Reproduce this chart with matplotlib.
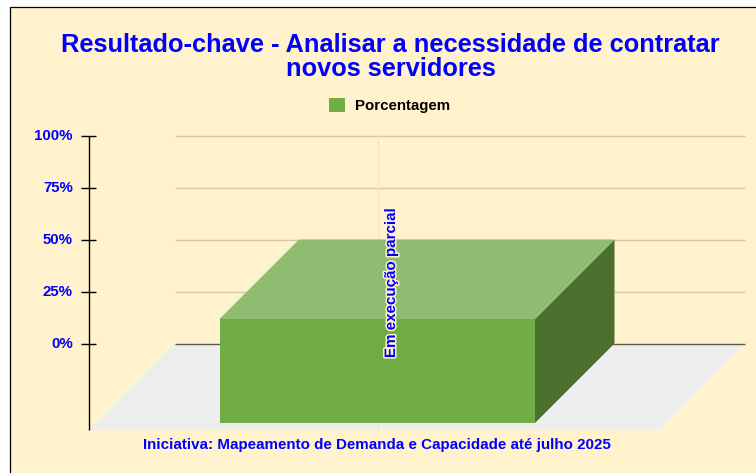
import matplotlib
matplotlib.use('Agg')
from matplotlib import pyplot as plt
from matplotlib.patches import Polygon, Rectangle
import matplotlib.patheffects as pe

plt.rcParams['font.family'] = ['Liberation Sans', 'DejaVu Sans']

# %%
title = 'Resultado-chave - Analisar a necessidade de contratar\nnovos servidores'
subtitle = 'Iniciativa: Mapeamento de Demanda e Capacidade até julho 2025'
series_name = 'Porcentagem'
bar_label = 'Em execução parcial'
values = [50]
tick_values = [0, 25, 50, 75, 100]
tick_labels = ['0%', '25%', '50%', '75%', '100%']

# %%
W, H = 756, 473
bg = '#fff2cc'
blue = '#0000ff'
px_per_pct = 2.08   # 208 px between 0% and 100%
y0_px = 343.5       # pixel row of 0% on the back wall

fig = plt.figure(figsize=(W/100, H/100), dpi=100, facecolor='white')
ax = fig.add_axes([0, 0, 1, 1])
ax.set_xlim(0, W)
# y axis is in percent, the back wall 0% sits at pixel row y0_px
ax.set_ylim(-(H - y0_px)/px_per_pct, y0_px/px_per_pct)
ax.axis('off')

def pct(px):
    # distance in pixels to percent units
    return px/px_per_pct

# chart background with its black border
ax.add_patch(Rectangle((10.2, pct(y0_px - H - 5)), W + 10, pct(H - 2), fc=bg, ec='black', lw=0.9, zorder=0))

# floor
floor_depth = 86
ax.add_patch(Polygon([(174.7, 0), (745, 0), (660, pct(-floor_depth)), (89, pct(-floor_depth))],
                     fc='#eeeeee', ec='none', zorder=1))

# gridlines on the back wall
for v in tick_values:
    col = '#5f5a4a' if v == 0 else '#d6c9a3'
    ax.plot([174.7, 745], [v, v], color=col, lw=1.0, solid_capstyle='butt', zorder=2)
ax.plot([378, 378], [100, pct(-floor_depth)], color='#f1e5c4', lw=1.0, zorder=2)

# y axis
ax.plot([88.5, 88.5], [100, pct(-floor_depth - 0.5)], color='black', lw=1.0, solid_capstyle='butt', zorder=3)
for v, lab in zip(tick_values, tick_labels):
    ax.plot([81, 96], [v, v], color='black', lw=1.0, solid_capstyle='butt', zorder=3)
    ax.text(72.8, v - pct(0.6), lab, ha='right', va='center', color=blue, fontsize=10.8, fontweight='bold', zorder=3)

# 3d bar, back face starts at 0% and depth shifts it down and to the left
depth = 79.5
x0, x1 = 219.5, 535
for val in values:
    d = pct(depth)
    ax.add_patch(Polygon([(x1, val - d), (x1 + depth, val), (x1 + depth, 0), (x1, -d)],
                         fc='#4b6f2f', ec='none', zorder=4))
    ax.add_patch(Polygon([(x0, val - d), (x0 + depth, val), (x1 + depth, val), (x1, val - d)],
                         fc='#8fbc70', ec='none', zorder=4))
    front = Polygon([(x0, -d), (x0, val - d), (x1, val - d), (x1, -d)],
                    fc='#70ad47', ec='none', zorder=4, label=series_name)
    ax.add_patch(front)
    ax.text(391, val - pct(43.5), bar_label, rotation=90, ha='center', va='center', color=blue,
            fontsize=10.9, fontweight='bold', zorder=5,
            path_effects=[pe.withStroke(linewidth=2.2, foreground=bg)])

# title, legend and bottom text
ax.text(390.5, pct(y0_px - 57), title, ha='center', va='center', color=blue, fontsize=18.3,
        fontweight='bold', linespacing=1.05, zorder=5)
leg = ax.legend(handles=[front], loc='center', bbox_to_anchor=(389.5/W, 1 - 105.2/H), frameon=False,
                handlelength=1.05, handleheight=1.05, handletextpad=0.68,
                prop={'size': 10.8, 'weight': 'bold'})
ax.text(377, pct(y0_px - 445), subtitle, ha='center', va='center', color=blue, fontsize=10.87,
        fontweight='bold', zorder=5)

fig.savefig('out.png', dpi=100, facecolor='white')
